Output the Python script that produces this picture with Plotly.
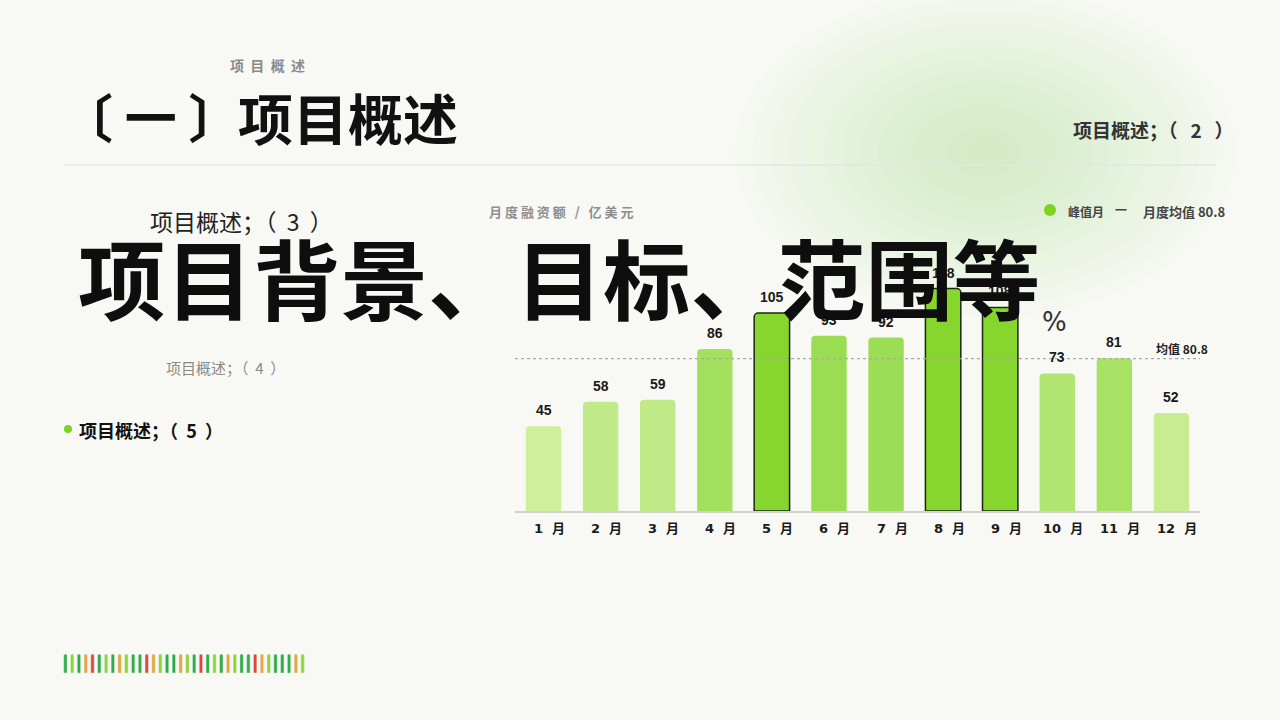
import plotly.graph_objects as go

# data
months = ["1 月", "2 月", "3 月", "4 月", "5 月", "6 月", "7 月", "8 月", "9 月", "10 月", "11 月", "12 月"]
amounts = [45, 58, 59, 86, 105, 93, 92, 118, 108, 73, 81, 52]
strip_colors = ["dg", "lg", "dg", "or", "rd", "dg", "lg", "dg", "or", "lg", "dg", "dg",
                "rd", "or", "lg", "dg", "dg", "or", "lg", "dg", "rd", "dg", "lg", "dg",
                "or", "lg", "dg", "dg", "rd", "or", "lg", "dg", "dg", "dg", "or", "lg"]

W, H = 1280, 720
BG = "#F8F9F5"
CJK = "Noto Sans CJK SC"


def px(x):
    return x / W


def py(y):
    return 1 - y / H


mean_val = sum(amounts) / len(amounts)
peaks = sorted(range(len(amounts)), key=lambda i: amounts[i], reverse=True)[:3]


def bar_color(v):
    # light -> strong green by value
    lo, hi = (206, 240, 156), (152, 220, 80)
    t = min(max((v - 45) / (95 - 45), 0), 1)
    return "rgb(%d,%d,%d)" % tuple(round(a + (b - a) * t) for a, b in zip(lo, hi))


colors = []
line_w = []
for i, v in enumerate(amounts):
    if i in peaks:
        colors.append("#86D62E")
        line_w.append(1.5)
    else:
        colors.append(bar_color(v))
        line_w.append(0)

fig = go.Figure()
fig.add_trace(go.Bar(
    x=months, y=amounts, marker=dict(color=colors, line=dict(color="#1C2812", width=line_w),
                                     cornerradius=4),
    width=0.62, xaxis="x", yaxis="y", hoverinfo="skip"))

pal = {"dg": "#2FAE48", "lg": "#8FD62F", "or": "#E9A43C", "rd": "#E0473A"}
fig.add_trace(go.Bar(
    x=list(range(len(strip_colors))), y=[1] * len(strip_colors),
    marker=dict(color=[pal[c] for c in strip_colors], cornerradius=2),
    width=0.5, xaxis="x2", yaxis="y2", hoverinfo="skip"))

shapes = []
# soft green glow top right
n_glow = 14
for k in range(n_glow):
    f = 1 - k / n_glow
    rx, ry = 250 * f, 165 * f
    shapes.append(dict(type="circle", xref="paper", yref="paper", layer="below",
                       x0=px(985 - rx), x1=px(985 + rx), y0=py(152 + ry), y1=py(152 - ry),
                       fillcolor="rgba(175,215,130,0.03)", line=dict(width=0)))
# header rule
shapes.append(dict(type="line", xref="paper", yref="paper", x0=px(64), x1=px(1216),
                   y0=py(165), y1=py(165), line=dict(color="#E4E6E0", width=1.5)))
# mean line
shapes.append(dict(type="line", xref="paper", yref="y", x0=px(515), x1=px(1200),
                   y0=mean_val, y1=mean_val, line=dict(color="#A8A8A8", width=1.2, dash="dot")))
# bullet dot & legend dot
shapes.append(dict(type="circle", xref="paper", yref="paper", x0=px(64), x1=px(72),
                   y0=py(433), y1=py(425), fillcolor="#7ED321", line=dict(width=0)))
shapes.append(dict(type="circle", xref="paper", yref="paper", x0=px(1044), x1=px(1056),
                   y0=py(216), y1=py(204), fillcolor="#7ED321", line=dict(width=0)))

ann = []

# value labels above bars, month labels below
for m, v in zip(months, amounts):
    ann.append(dict(x=m, y=v, xref="x", yref="y", text=str(v), showarrow=False,
                    yanchor="bottom", yshift=6,
                    font=dict(family="Liberation Sans", size=14, color="#1a1a1a", weight=700)))
    num, unit = m.split(" ")
    ann.append(dict(x=m, y=0, xref="x", yref="y", text=num + "  " + unit, showarrow=False,
                    yanchor="top", yshift=-8, xshift=6,
                    font=dict(family="DejaVu Sans, " + CJK, size=13, color="#1a1a1a", weight=700)))


def txt(x, y, s, size, color, weight=400, anchor="left", family=CJK):
    ann.append(dict(x=px(x), y=py(y), xref="paper", yref="paper", text=s, showarrow=False,
                    xanchor=anchor, yanchor="middle",
                    font=dict(family=family, size=size, color=color, weight=weight)))


txt(228, 65, "项  目  概  述", 14, "#8A8A8A", 700)
txt(59, 116, "〔 一 〕", 52, "#111111", 700)
txt(236, 116, "项目概述", 55, "#111111", 700)
txt(1236, 129, "项目概述；（   2   ）", 19, "#333333", 700, "right")
txt(148, 221, "项目概述；（  3  ）", 23, "#222222")
txt(164, 367, "项目概述；（  4  ）", 15, "#8A8A8A")
txt(77, 430, "项目概述；（  5  ）", 18, "#111111", 700)
txt(487, 211, "月 度 融 资 额   /   亿 美 元", 13, "#8E8E8E", 700)
txt(1066, 211, "峰值月", 12, "#444444", 700)
txt(1113, 209, "一", 12, "#444444", 700)
txt(1141, 211, "月度均值 80.8", 13, "#444444", 700)
txt(1154, 348, "均值 %.1f" % mean_val, 12, "#222222", 700)
txt(1040, 322, "%", 26, "#333333", 400, "left", "DejaVu Sans")
txt(559, 275, "项目背景、目标、范围等", 87.5, "#0E0E0E", 700, "center")

fig.update_layout(
    width=W, height=H, margin=dict(l=0, r=0, t=0, b=0),
    paper_bgcolor=BG, plot_bgcolor="rgba(0,0,0,0)", showlegend=False,
    xaxis=dict(domain=[px(515), px(1200)], showgrid=False, zeroline=False,
               showline=True, linecolor="#D0D2CC", linewidth=2, ticks="", showticklabels=False),
    yaxis=dict(domain=[py(511), py(266)], range=[0, 130], visible=False, showgrid=False),
    xaxis2=dict(domain=[px(62), px(306)], range=[-0.5, len(strip_colors) - 0.5], visible=False,
                anchor="y2"),
    yaxis2=dict(domain=[py(673), py(654)], range=[0, 1], visible=False, anchor="x2"),
    shapes=shapes, annotations=ann,
)

fig.write_html("out.html", config={"displayModeBar": False},
               post_script="document.body.style.margin='0';")
